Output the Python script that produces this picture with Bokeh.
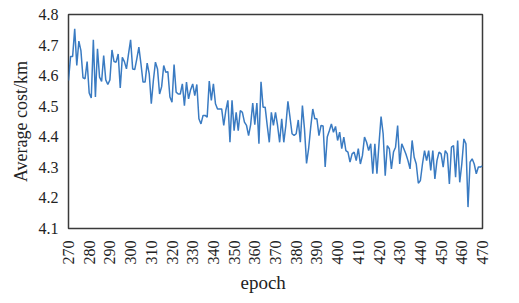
from bokeh.plotting import figure
from bokeh.models import Range1d, FixedTicker, Title
from bokeh.embed import file_html
from bokeh.resources import INLINE

epochs = list(range(270, 471))
avg_cost = [
    4.584, 4.663, 4.663, 4.753, 4.633, 4.713, 4.682, 4.593, 4.590, 4.646,
    4.543, 4.527, 4.717, 4.530, 4.688, 4.595, 4.581, 4.666, 4.586, 4.571,
    4.586, 4.684, 4.646, 4.644, 4.671, 4.560, 4.660, 4.646, 4.622, 4.671,
    4.717, 4.622, 4.620, 4.655, 4.693, 4.639, 4.579, 4.579, 4.641, 4.606,
    4.508, 4.584, 4.644, 4.622, 4.540, 4.564, 4.633, 4.611, 4.613, 4.530,
    4.513, 4.636, 4.546, 4.540, 4.540, 4.573, 4.502, 4.579, 4.524, 4.554,
    4.573, 4.535, 4.571, 4.459, 4.442, 4.470, 4.470, 4.464, 4.582, 4.519,
    4.573, 4.508, 4.491, 4.491, 4.491, 4.437, 4.486, 4.519, 4.382, 4.519,
    4.420, 4.480, 4.420, 4.486, 4.480, 4.448, 4.437, 4.404, 4.440, 4.510,
    4.440, 4.510, 4.377, 4.580,
    4.497, 4.497, 4.437, 4.382, 4.480, 4.437, 4.480, 4.437, 4.382, 4.459,
    4.382, 4.437, 4.516, 4.464, 4.410, 4.404, 4.410, 4.455, 4.382, 4.502,
    4.426, 4.313, 4.361, 4.431, 4.491, 4.459, 4.459, 4.404, 4.437, 4.435,
    4.301, 4.399, 4.420, 4.442, 4.415, 4.434, 4.388, 4.415, 4.361, 4.399,
    4.355, 4.350, 4.317, 4.344, 4.350, 4.322, 4.361, 4.311, 4.339, 4.399,
    4.382, 4.355, 4.377, 4.279, 4.377, 4.279, 4.377, 4.466, 4.410, 4.273,
    4.371, 4.361, 4.295, 4.350, 4.366, 4.437, 4.311, 4.377, 4.361, 4.344,
    4.322, 4.295, 4.388, 4.333, 4.311, 4.248, 4.257, 4.311, 4.355, 4.322,
    4.355, 4.290, 4.355, 4.262, 4.322, 4.350, 4.344, 4.301, 4.355, 4.344,
    4.246, 4.366, 4.371, 4.268, 4.388, 4.251, 4.311, 4.393, 4.377, 4.170,
    4.317, 4.328, 4.311, 4.279, 4.301, 4.301, 4.305,
]
n = min(len(epochs), len(avg_cost))
epochs = epochs[:n]
avg_cost = avg_cost[:n]

x_ticks = list(range(270, 471, 10))
y_ticks = [4.1, 4.2, 4.3, 4.4, 4.5, 4.6, 4.7, 4.8]

FONT = "Liberation Serif"

p = figure(width=505, height=294, output_backend="svg", toolbar_location=None,
           x_range=Range1d(270, 470), y_range=Range1d(4.1, 4.8),
           min_border_left=68, min_border_right=23, min_border_top=14,
           min_border_bottom=10)

p.line(epochs, avg_cost, line_color="#3a7bc2", line_width=1.5)

p.xgrid.visible = False
p.ygrid.visible = False
p.outline_line_color = "#3a3a3a"
p.outline_line_width = 1.5
p.background_fill_color = "white"
p.border_fill_color = "white"

for ax in (p.xaxis[0], p.yaxis[0]):
    ax.axis_line_color = None
    ax.major_tick_line_color = None
    ax.minor_tick_line_color = None
    ax.major_tick_out = 0
    ax.major_tick_in = 0
    ax.minor_tick_out = 0
    ax.major_label_text_font = FONT
    ax.major_label_text_font_size = "16px"
    ax.major_label_text_color = "#222222"

p.xaxis[0].ticker = FixedTicker(ticks=x_ticks)
p.xaxis[0].major_label_orientation = 1.5708
p.xaxis[0].major_label_standoff = 12

p.yaxis[0].ticker = FixedTicker(ticks=y_ticks)
p.yaxis[0].major_label_standoff = 10
p.yaxis[0].axis_label = "Average cost/km"
p.yaxis[0].axis_label_text_font = FONT
p.yaxis[0].axis_label_text_font_size = "18px"
p.yaxis[0].axis_label_text_font_style = "normal"
p.yaxis[0].axis_label_text_color = "#222222"
p.yaxis[0].axis_label_standoff = 5

xt = Title(text="epoch", align="left", offset=172, standoff=4, text_font=FONT,
           text_font_size="19px", text_font_style="normal",
           text_color="#222222")
p.add_layout(xt, "below")

open("out.html", "w").write(file_html(p, INLINE))
